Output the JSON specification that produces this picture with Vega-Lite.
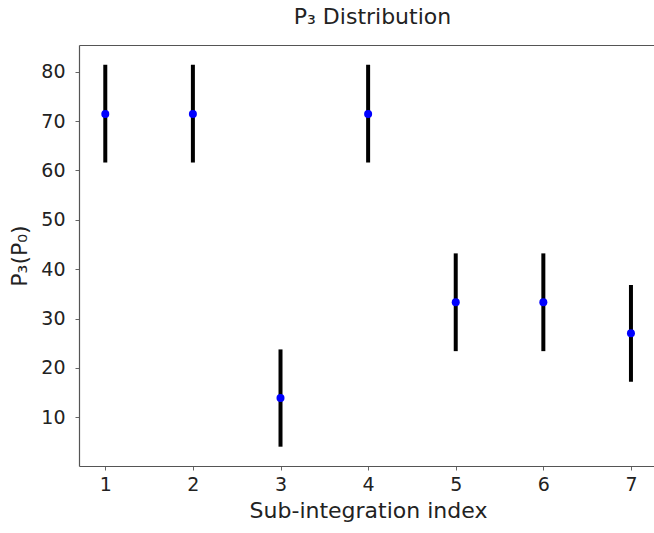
{
  "$schema": "https://vega.github.io/schema/vega-lite/v6.json",
  "autosize": {"type": "none"},
  "padding": {"left": 79, "top": 45, "right": 0, "bottom": 67},
  "width": 587,
  "height": 421,
  "title": {
    "text": "P₃ Distribution",
    "font": "DejaVu Sans",
    "fontSize": 22,
    "fontWeight": "normal",
    "color": "#222222",
    "offset": 16
  },
  "config": {
    "view": {"stroke": null},
    "axis": {
      "grid": false,
      "domain": true,
      "domainColor": "#555555",
      "domainWidth": 1.2,
      "tickColor": "#666666",
      "tickSize": 4,
      "labelFont": "DejaVu Sans",
      "labelFontSize": 19,
      "labelColor": "#222222",
      "titleFont": "DejaVu Sans",
      "titleFontSize": 22,
      "titleFontWeight": "normal",
      "titleColor": "#222222"
    }
  },
  "data": {
    "values": [
      {"index": 1, "value": 71.43, "lo": 61.6, "hi": 81.4},
      {"index": 2, "value": 71.43, "lo": 61.6, "hi": 81.4},
      {"index": 3, "value": 13.9, "lo": 4.05, "hi": 23.75},
      {"index": 4, "value": 71.43, "lo": 61.6, "hi": 81.4},
      {"index": 5, "value": 33.3, "lo": 23.4, "hi": 43.2},
      {"index": 6, "value": 33.3, "lo": 23.4, "hi": 43.2},
      {"index": 7, "value": 27.0, "lo": 17.2, "hi": 36.8}
    ]
  },
  "resolve": {"axis": {"x": "independent"}},
  "layer": [
    {
      "mark": {"type": "rule", "color": "black", "strokeWidth": 4},
      "encoding": {
        "x": {"field": "index", "type": "quantitative",
              "scale": {"domain": [0.7, 7.4], "nice": false, "zero": false},
              "axis": {"values": [1, 2, 3, 4, 5, 6, 7], "format": "d", "title": "Sub-integration index", "labelPadding": 5, "titlePadding": 6, "titleX": 289}},
        "y": {"field": "lo", "type": "quantitative",
              "scale": {"domain": [0.14, 85.4], "nice": false, "zero": false},
              "axis": {"values": [10, 20, 30, 40, 50, 60, 70, 80], "title": "P₃(P₀)", "labelPadding": 10, "titlePadding": 9}},
        "y2": {"field": "hi"}
      }
    },
    {
      "mark": {"type": "point", "filled": true, "color": "#0000ff", "opacity": 1, "size": 64, "shape": "circle"},
      "encoding": {
        "x": {"field": "index", "type": "quantitative",
              "axis": {"orient": "top", "labels": false, "ticks": false, "title": null, "domain": true}},
        "y": {"field": "value", "type": "quantitative"}
      }
    }
  ]
}
